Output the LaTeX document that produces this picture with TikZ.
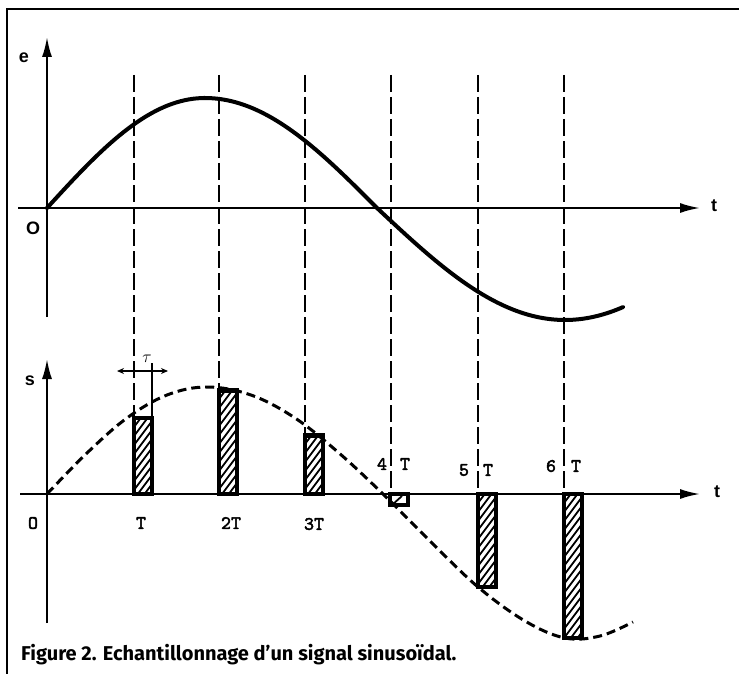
\documentclass[tikz,border=0pt]{standalone}
\usepackage{fontspec}
\newfontfamily\capfont{Fira Sans}
\newfontfamily\axfont{Liberation Sans}
\newfontfamily\typefont[FakeBold=2.5]{lmmono10-regular.otf}
\usetikzlibrary{arrows.meta}
\begin{document}
\begin{tikzpicture}[x=1pt,y=-1pt,
  axis/.style={line width=2pt,-{Latex[length=20pt,width=10pt]}},
  guide/.style={line width=1.3pt,dash pattern=on 17pt off 5pt},
  signal/.style={line width=4pt,line cap=round},
  envelope/.style={line width=3pt,dash pattern=on 9pt off 5pt},
  bar/.style={line width=3.5pt},
  hatchline/.style={line width=1.8pt},
  mono/.style={font=\typefont\fontsize{19}{19}\selectfont,inner sep=0pt},
  axlbl/.style={font=\axfont\bfseries\fontsize{18}{18}\selectfont,inner sep=0pt},
]
\useasboundingbox (0,0) rectangle (739,674);
% frame
\draw[line width=2.5pt] (7,674) -- (7,9) -- (739,9);
% top axes
\coordinate (eBot) at (47,317);
\coordinate (eTop) at (47,37);
\coordinate (tL1) at (18,208);
\coordinate (tR1) at (700,208);
\draw[axis] (eBot) -- (eTop);
\draw[axis] (tL1) -- (tR1);
\node[axlbl] (e) at (24,58) {e};
\node[axlbl] (t1) at (714,206) {t};
\node[axlbl] (O1) at (33,228) {O};
% bottom axes
\coordinate (sBot) at (47,623);
\coordinate (sTop) at (47,359);
\coordinate (tL2) at (20,494);
\coordinate (tR2) at (700,494);
\draw[axis] (sBot) -- (sTop);
\draw[axis] (tL2) -- (tR2);
\node[axlbl] (s) at (30,381) {s};
\node[axlbl] (t2) at (717,492) {t};
\node[mono] (O2) at (33,523) {O};
% guide lines
\foreach \x/\yb in {134/418, 219/390, 305/435, 391/494, 478/494, 564/494}
  \draw[guide] (\x,75) -- (\x,\yb);
% top signal
\draw[signal] plot[domain=47:205,samples=40] (\x,{208-110*sin((\x-47)/158*90)})
  -- plot[domain=205:377,samples=40] (\x,{208-110*cos((\x-205)/172*90)})
  -- plot[domain=377:623,samples=50] (\x,{208+112*sin((\x-377)/188*90)});
% sample bars
\foreach \x/\ya/\yb in {134/418/494, 219/390/494, 305/435/494, 478/494/587, 564/494/638} {
  \begin{scope}
    \clip (\x,\ya) rectangle ({\x+18},\yb);
    \foreach \k in {0,9,...,180} \draw[hatchline] (\x,{\ya+\k}) -- ++(18,-24);
  \end{scope}
  \draw[bar] (\x,\ya) rectangle ({\x+18},\yb);
}
\draw[line width=5pt] (219,390) -- (237,390);
\draw[line width=5pt] (305,435) -- (323,435);
\draw[bar] (390,494) rectangle (408,505);
\draw[hatchline] (392,505) -- (402,496);
% envelope
\draw[envelope] plot[smooth,tension=0.6] coordinates {(47,494) (87,453) (127,418) (167,395) (207,387) (251,395) (295,418) (339,453) (383,494) (430,541) (478,587) (525,621) (565,638) (600,636) (633,622)};
% tau
\draw[line width=1.3pt] (152,418) -- (152,363);
\draw[line width=1.3pt,{Stealth[length=7pt,width=6pt]}-{Stealth[length=7pt,width=6pt]}] (117,371) -- (168,371);
\node[inner sep=0pt,font=\fontsize{18}{18}\selectfont] (tau) at (147,359) {$\tau$};
% sample labels
\node[mono] (lT) at (141,523) {T};
\node[mono] (l2T) at (231,523) {2T};
\node[mono] (l3T) at (314,524) {3T};
\node[mono] (l4) at (382,464) {4};
\node[mono] (l4T) at (405,464) {T};
\node[mono] (l5) at (464,470) {5};
\node[mono] (l5T) at (488,470) {T};
\node[mono] (l6) at (551,466) {6};
\node[mono] (l6T) at (576,466) {T};
% caption
\node[anchor=base west,inner sep=0pt,font=\capfont\bfseries\fontsize{20}{20}\selectfont] (cap) at (21,660) {Figure 2. Echantillonnage d’un signal sinusoïdal.};
\end{tikzpicture}
\end{document}
